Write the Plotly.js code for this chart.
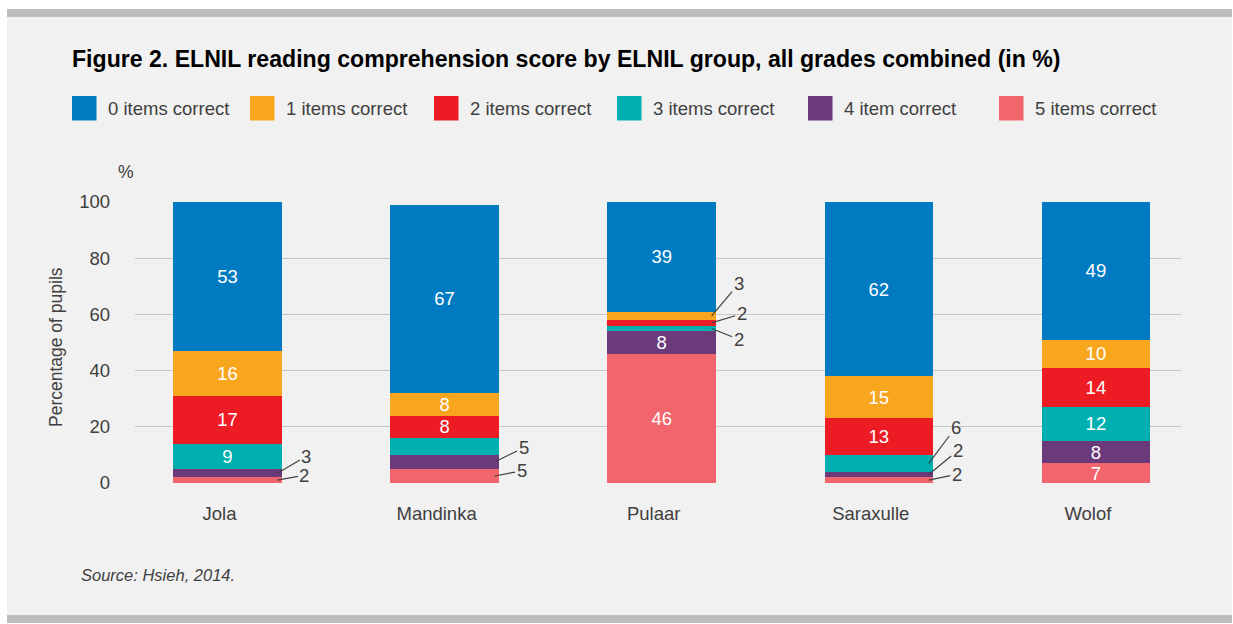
<!DOCTYPE html>
<html>
<head>
<meta charset="utf-8">
<script src="https://cdn.plot.ly/plotly-3.0.1.min.js"></script>
<style>
  html, body { margin: 0; padding: 0; background: #ffffff; }
  #chart { width: 1233px; height: 624px; }
</style>
</head>
<body>
<div id="chart"></div>
<script>
// ---- Data ----
const groups = ['Jola', 'Mandinka', 'Pulaar', 'Saraxulle', 'Wolof'];
const items0 = [53, 67, 39, 62, 49];
const items1 = [16, 8, 3, 15, 10];
const items2 = [17, 8, 2, 13, 14];
const items3 = [9, 6, 2, 6, 12];
const items4 = [3, 5, 8, 2, 8];
const items5 = [2, 5, 46, 2, 7];
const seriesNames = ['0 items correct', '1 items correct', '2 items correct',
                     '3 items correct', '4 item correct', '5 items correct'];
const yTicks = [0, 20, 40, 60, 80, 100];
// small segments labelled outside the bar: [group index, series index]
const callouts = [[0, 4], [0, 5], [1, 4], [1, 5], [2, 1], [2, 2], [2, 3], [3, 3], [3, 4], [3, 5]];

// ---- Styles / layout constants ----
const seriesColors = ['#007bc2', '#f9a61f', '#ed1c24', '#00b0b0', '#6a3a7a', '#f2656c'];
const calloutOffsets = [[29, -17], [27, -5], [29, -14], [27, -5], [27, -32], [30, -9], [27, 11], [27, -36], [29, -24], [28, -6]];
const legendSquareX = [72, 250, 434, 617, 808, 999];
const FONT = 'Liberation Sans, Arial, Helvetica, sans-serif';
const TXT = '#404040';
const W = 1233, H = 624;
const M = { l: 135, r: 52, t: 202, b: 141 };
const plotW = W - M.l - M.r, plotH = H - M.t - M.b;
const px = (p) => (p - M.l) / plotW;           // pixel x -> paper x
const py = (p) => (H - M.b - p) / plotH;        // pixel y -> paper y

const allSeries = [items0, items1, items2, items3, items4, items5];

// stacking order: bottom is "5 items", top is "0 items"
const traces = [];
for (let s = 5; s >= 0; s--) {
  traces.push({
    type: 'bar',
    name: seriesNames[s],
    x: groups,
    y: allSeries[s],
    width: 0.5,
    marker: { color: seriesColors[s], line: { width: 0 } },
    text: allSeries[s].map(v => v >= 7 ? String(v) : ''),
    textposition: 'inside',
    insidetextanchor: 'middle',
    textangle: 0,
    constraintext: 'none',
    textfont: { family: FONT, size: 18.5, color: '#ffffff' },
    hoverinfo: 'skip',
    showlegend: false
  });
}

const annotations = [];
// callouts with leader lines
callouts.forEach((c, i) => {
  const g = c[0], s = c[1];
  let base = 0;
  for (let k = 5; k > s; k--) base += allSeries[k][g];
  const mid = base + allSeries[s][g] / 2;
  annotations.push({
    x: g + 0.23, y: mid, xref: 'x', yref: 'y',
    text: String(allSeries[s][g]),
    showarrow: true, arrowhead: 0, arrowwidth: 1.2, arrowcolor: '#404040',
    ax: calloutOffsets[i][0], ay: calloutOffsets[i][1],
    standoff: 0, startstandoff: 0,
    font: { family: FONT, size: 18.5, color: TXT }
  });
});

// y axis title and "%" unit label
annotations.push({
  x: px(56), y: py(347), xref: 'paper', yref: 'paper',
  text: 'Percentage of pupils', textangle: -90, showarrow: false,
  xanchor: 'center', yanchor: 'middle',
  font: { family: FONT, size: 17.5, color: TXT }
});
annotations.push({
  x: px(126), y: py(172), xref: 'paper', yref: 'paper',
  text: '%', showarrow: false, xanchor: 'center', yanchor: 'middle',
  font: { family: FONT, size: 17.5, color: TXT }
});
// source
annotations.push({
  x: px(79), y: py(575), xref: 'paper', yref: 'paper',
  text: '<i>Source: Hsieh, 2014.</i>', showarrow: false,
  xanchor: 'left', yanchor: 'middle',
  font: { family: FONT, size: 16.5, color: TXT }
});

// panel shapes
const shapes = [
  { type: 'rect', xref: 'paper', yref: 'paper', layer: 'below',
    x0: px(7), x1: px(1232), y0: py(615), y1: py(17),
    fillcolor: '#f1f1f1', line: { width: 0 } },
  { type: 'rect', xref: 'paper', yref: 'paper', layer: 'below',
    x0: px(7), x1: px(1232), y0: py(17), y1: py(9),
    fillcolor: '#bdbdbf', line: { width: 0 } },
  { type: 'rect', xref: 'paper', yref: 'paper', layer: 'below',
    x0: px(7), x1: px(1232), y0: py(623), y1: py(615),
    fillcolor: '#bdbdbf', line: { width: 0 } }
];

// custom legend
seriesNames.forEach((name, i) => {
  const x0 = legendSquareX[i];
  shapes.push({
    type: 'rect', xref: 'paper', yref: 'paper', layer: 'above',
    x0: px(x0), x1: px(x0 + 24.5), y0: py(120.5), y1: py(96),
    fillcolor: seriesColors[i], line: { width: 0 }
  });
  annotations.push({
    x: px(x0 + 33.5), y: py(108.5), xref: 'paper', yref: 'paper',
    text: name, showarrow: false, xanchor: 'left', yanchor: 'middle',
    font: { family: FONT, size: 18.5, color: TXT }
  });
});

const layout = {
  width: W, height: H,
  margin: M,
  paper_bgcolor: '#ffffff',
  plot_bgcolor: 'rgba(0,0,0,0)',
  barmode: 'stack',
  bargap: 0.5,
  showlegend: false,
  title: {
    text: 'Figure 2. ELNIL reading comprehension score by ELNIL group, all grades combined (in %)',
    x: 72 / W, xanchor: 'left', xref: 'container',
    y: 1 - 58.5 / H, yanchor: 'middle', yref: 'container',
    font: { family: FONT, size: 23.1, color: '#000000', weight: 'bold' }
  },
  xaxis: {
    type: 'category',
    range: [-0.426, 4.392],
    showgrid: false, zeroline: false, showline: false,
    ticks: '',
    ticklabelstandoff: 17,
    ticklabelshift: -8,
    tickfont: { family: FONT, size: 18.5, color: TXT },
    fixedrange: true
  },
  yaxis: {
    range: [0, 100],
    tickvals: yTicks,
    ticktext: yTicks.map(String),
    showgrid: true, gridcolor: '#c6c6c6', gridwidth: 1.2,
    zeroline: false, showline: false,
    ticks: '',
    ticklabelstandoff: 24,
    tickfont: { family: FONT, size: 18.5, color: TXT },
    fixedrange: true
  },
  shapes: shapes,
  annotations: annotations
};

Plotly.newPlot('chart', traces, layout, { displayModeBar: false, staticPlot: true });
</script>
</body>
</html>
